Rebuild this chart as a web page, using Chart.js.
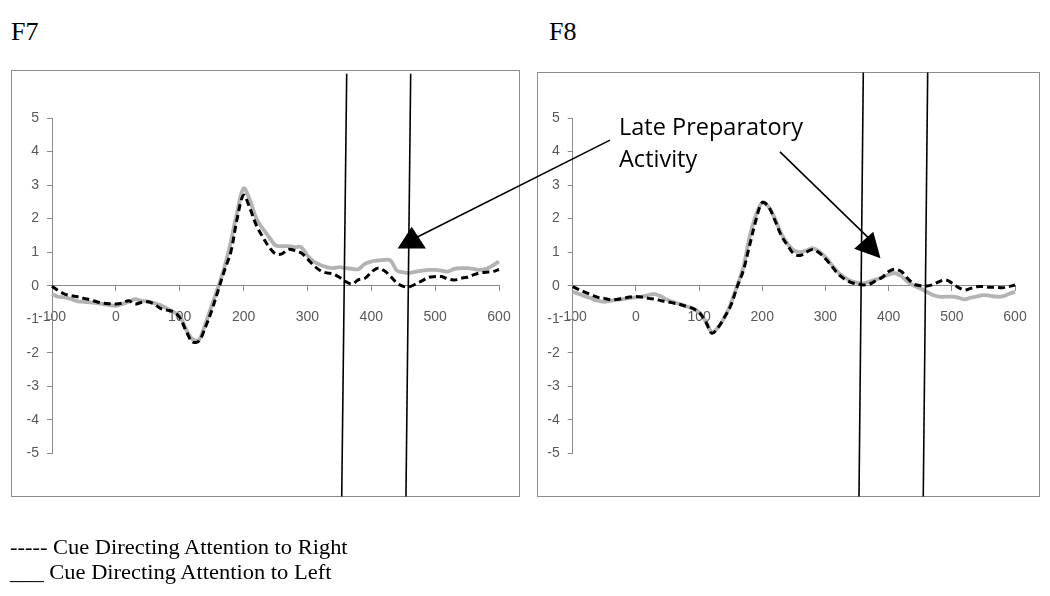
<!DOCTYPE html>
<html><head><meta charset="utf-8">
<script src="https://cdn.jsdelivr.net/npm/chart.js@4.4.0/dist/chart.umd.min.js"></script>
<style>
html,body{margin:0;padding:0;background:#fff;}
#wrap{position:relative;width:1050px;height:596px;overflow:hidden;background:#fff;}
canvas{position:absolute;left:0;top:0;}
.frame{position:absolute;border:1.5px solid #8c8c8c;box-sizing:border-box;}
.title{position:absolute;font-family:"Liberation Serif","Times New Roman",serif;font-size:26px;line-height:1;color:#000;}
.legend{position:absolute;left:10px;font-family:"Liberation Serif","Times New Roman",serif;font-size:21px;line-height:1;color:#000;white-space:pre;transform:scaleX(1.07);transform-origin:0 0;}
</style></head>
<body><div id="wrap">
<div class="frame" style="left:11px;top:70px;width:509px;height:427px"></div>
<div class="frame" style="left:537px;top:72px;width:503px;height:425px"></div>
<div class="title" style="left:11px;top:19px">F7</div>
<div class="title" style="left:549px;top:19px">F8</div>
<canvas id="c8" width="1050" height="596"></canvas>
<canvas id="c7" width="1050" height="596"></canvas>
<div class="legend" style="top:537px">----- Cue Directing Attention to Right</div>
<div class="legend" style="top:562px">___ Cue Directing Attention to Left</div>
</div>
<script>
// time points (ms)
const timeMs = [-100,-90,-80,-70,-60,-50,-40,-30,-20,-10,0,10,20,30,40,50,60,70,80,90,100,110,120,130,140,150,160,170,180,190,200,210,220,230,240,250,260,270,280,290,300,310,320,330,340,350,360,370,380,390,400,410,420,430,440,450,460,470,480,490,500,510,520,530,540,550,560,570,580,590,600];

// F7 – cue directing attention to left (solid grey)
const f7Left = [-0.25,-0.33,-0.35,-0.40,-0.47,-0.48,-0.50,-0.52,-0.55,-0.58,-0.60,-0.55,-0.48,-0.40,-0.45,-0.47,-0.52,-0.58,-0.68,-0.78,-0.90,-1.30,-1.60,-1.62,-1.15,-0.60,-0.05,0.55,1.30,2.20,2.90,2.55,2.00,1.70,1.45,1.20,1.18,1.18,1.15,1.15,0.90,0.72,0.62,0.55,0.52,0.55,0.52,0.50,0.49,0.65,0.72,0.75,0.77,0.75,0.45,0.40,0.38,0.42,0.45,0.47,0.47,0.45,0.42,0.50,0.52,0.52,0.50,0.47,0.50,0.60,0.72];
// F7 – cue directing attention to right (dashed black)
const f7Right = [-0.02,-0.15,-0.25,-0.30,-0.33,-0.38,-0.42,-0.48,-0.52,-0.54,-0.55,-0.52,-0.45,-0.55,-0.50,-0.48,-0.55,-0.68,-0.73,-0.78,-0.95,-1.35,-1.68,-1.65,-1.25,-0.75,-0.15,0.45,1.00,2.00,2.70,2.30,1.80,1.45,1.15,0.95,0.95,1.08,1.05,0.98,0.80,0.60,0.45,0.38,0.35,0.25,0.12,0.05,0.18,0.22,0.40,0.52,0.45,0.28,0.08,-0.02,-0.03,0.05,0.15,0.25,0.27,0.27,0.20,0.17,0.22,0.25,0.32,0.38,0.40,0.42,0.48];
// F8 – cue directing attention to left (solid grey)
const f8Left = [-0.18,-0.25,-0.32,-0.38,-0.45,-0.48,-0.45,-0.42,-0.40,-0.37,-0.35,-0.33,-0.28,-0.25,-0.32,-0.43,-0.50,-0.55,-0.62,-0.68,-0.80,-1.05,-1.38,-1.25,-0.95,-0.55,-0.02,0.55,1.45,2.10,2.48,2.35,2.00,1.55,1.25,1.05,1.00,1.05,1.12,1.02,0.85,0.62,0.40,0.25,0.14,0.09,0.07,0.12,0.18,0.25,0.33,0.37,0.28,0.12,0.00,-0.08,-0.18,-0.28,-0.33,-0.33,-0.33,-0.36,-0.41,-0.36,-0.32,-0.28,-0.30,-0.33,-0.32,-0.25,-0.18];
// F8 – cue directing attention to right (dashed black)
const f8Right = [-0.03,-0.12,-0.20,-0.28,-0.35,-0.38,-0.42,-0.41,-0.38,-0.34,-0.32,-0.34,-0.38,-0.40,-0.45,-0.48,-0.52,-0.56,-0.62,-0.68,-0.80,-1.05,-1.42,-1.25,-0.95,-0.60,-0.05,0.45,1.20,1.95,2.48,2.35,1.95,1.50,1.20,0.95,0.90,1.00,1.08,0.98,0.80,0.58,0.35,0.20,0.10,0.05,0.02,0.05,0.15,0.25,0.42,0.49,0.42,0.22,0.05,0.00,-0.01,0.03,0.12,0.17,0.08,-0.05,-0.13,-0.08,-0.03,-0.03,-0.05,-0.05,-0.06,-0.03,0.02];

// axis ticks
const xTicks = [-100,0,100,200,300,400,500,600];
const yTicks = [-5,-4,-3,-2,-1,0,1,2,3,4,5];

// hand-drawn window markers [xTop, yTop, xBottom, yBottom] (data units)
const f7Markers = [[361.5,6.32,353.7,-6.29],[461.7,6.32,454.3,-6.29]];
const f8Markers = [[359.9,6.36,353.1,-6.29],[461.8,6.36,454.8,-6.29]];

// annotation arrows (data units of each panel)
const f7ArrowLine = [473,1.46,773.8,4.34];
const f7ArrowHead = [[463.3,1.76],[441.3,1.11],[485.6,1.11]];
const f8ArrowLine = [228.1,3.99,375,1.3];
const f8ArrowHead = [[387.1,0.82],[345.5,1.10],[375.7,1.61]];
const f8Text = [["Late Preparatory",-26.7,4.49],["Activity",-26.7,3.54]];

const pts = (xs, ys) => xs.map((x,i)=>({x:x,y:ys[i]}));

const annot = {
  id:'annot',
  afterDatasetsDraw(chart, args, o){
    const {ctx} = chart, x = chart.scales.x, y = chart.scales.y;
    ctx.save();
    ctx.strokeStyle='#000'; ctx.fillStyle='#000'; ctx.lineWidth=1.6;
    (o.lines||[]).forEach(l=>{
      ctx.beginPath();
      ctx.moveTo(x.getPixelForValue(l[0]), y.getPixelForValue(l[1]));
      ctx.lineTo(x.getPixelForValue(l[2]), y.getPixelForValue(l[3]));
      ctx.stroke();
    });
    (o.heads||[]).forEach(h=>{
      ctx.beginPath();
      h.forEach((p,i)=>{const px=x.getPixelForValue(p[0]), py=y.getPixelForValue(p[1]); if(i) ctx.lineTo(px,py); else ctx.moveTo(px,py);});
      ctx.closePath(); ctx.fill();
    });
    ctx.font = '23.5px "Open Sans", "Liberation Sans", sans-serif';
    ctx.textBaseline='alphabetic'; ctx.textAlign='left';
    (o.texts||[]).forEach(t=>{ ctx.fillText(t[0], x.getPixelForValue(t[1]), y.getPixelForValue(t[2])); });
    ctx.restore();
  }
};

function makeChart(id, left, right, markers, pad, annOpts){
  const tickFont = {family:'"Liberation Sans Narrow","Arial Narrow","Liberation Sans",sans-serif', size:14};
  const ds = markers.map(m=>({
    data:[{x:m[0],y:m[1]},{x:m[2],y:m[3]}], borderColor:'#000', borderWidth:1.6,
    pointRadius:0, clip:false, tension:0
  }));
  ds.push({data:pts(timeMs,right), borderColor:'#000', borderWidth:3, borderDash:[7,4], pointRadius:0, tension:0.35, clip:false});
  ds.push({data:pts(timeMs,left), borderColor:'#b3b3b3', borderWidth:3.8, pointRadius:0, tension:0.35, clip:false});
  return new Chart(document.getElementById(id), {
    type:'line',
    data:{datasets:ds},
    plugins:[annot],
    options:{
      responsive:false, animation:false, events:[],
      layout:{padding:pad},
      plugins:{legend:{display:false}, tooltip:{enabled:false}, annot:annOpts},
      scales:{
        x:{type:'linear', min:-100, max:600, position:{y:0},
           afterBuildTicks:(s)=>{s.ticks = xTicks.map(v=>({value:v}));},
           grid:{drawOnChartArea:false, drawTicks:true, tickLength:5, color:'#8a8a8a'},
           border:{display:true, color:'#8a8a8a', width:1},
           ticks:{font:tickFont, color:'#595959', padding:18, maxRotation:0, autoSkip:false}},
        y:{type:'linear', min:-5, max:5,
           afterBuildTicks:(s)=>{s.ticks = yTicks.map(v=>({value:v}));},
           afterFit:(s)=>{s.width=40;},
           grid:{drawOnChartArea:false, drawTicks:true, tickLength:5, color:'#8a8a8a'},
           border:{display:true, color:'#8a8a8a', width:1},
           ticks:{font:tickFont, color:'#595959', padding:8, autoSkip:false}}
      }
    }
  });
}

makeChart('c7', f7Left, f7Right, f7Markers, {left:12, right:551, top:118, bottom:142.7},
  {lines:[f7ArrowLine], heads:[f7ArrowHead], texts:[]});
makeChart('c8', f8Left, f8Right, f8Markers, {left:532.7, right:35, top:118, bottom:142.7},
  {lines:[f8ArrowLine], heads:[f8ArrowHead], texts:f8Text});
</script>
</body></html>
